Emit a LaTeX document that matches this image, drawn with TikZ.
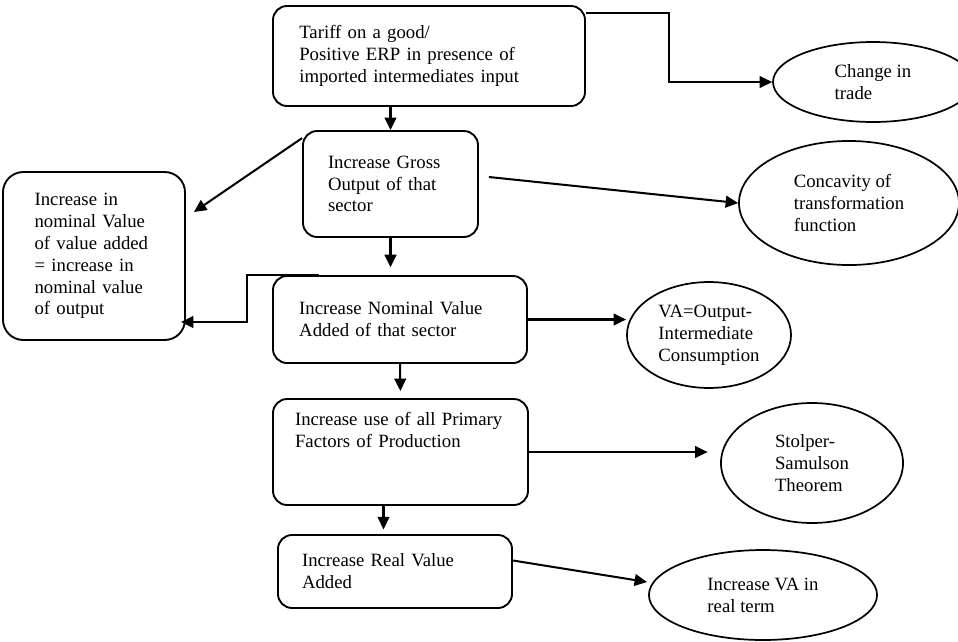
\documentclass[tikz,border=0pt]{standalone}
\usepackage{fontspec}
\setmainfont{Liberation Serif}
\usetikzlibrary{positioning,shapes.geometric,arrows.meta,calc}
\tikzset{
  box/.style={rectangle, rounded corners=9pt, fill=white, draw, line width=1.2pt, align=left, inner xsep=14pt},
  oval/.style={ellipse, fill=white, draw, line width=1.1pt, align=left, inner sep=0pt},
%  tallBox/.style={box, rounded corners=13pt},
  flow/.style={-{Triangle[length=8pt,width=7.5pt]}, line width=1.3pt}
}

\begin{document}
\begin{tikzpicture}[x=0.64pt, y=-0.64pt, font=\fontsize{12pt}{14pt}\selectfont]
  \useasboundingbox (0,0) rectangle (958,641);
  \clip (0,0) rectangle (958,641);
  % boxes
  \node [box, minimum width=199.7pt, minimum height=64pt, text width=166pt] (tariff) at (429,56)
    {Tariff on a good/\\Positive ERP in presence of\\imported intermediates input};
  \node [box, minimum width=112pt, minimum height=67.8pt, text width=80pt] (gross) at (390.5,184)
    {Increase Gross\\Output of that\\sector};
  \node [box, rounded corners=13pt, minimum width=116.5pt, minimum height=107.5pt, text width=76pt] (nomvalue) at (94,256)
    {Increase in\\nominal Value\\of value added\\= increase in\\nominal value\\of output};
  \node [box, minimum width=162.6pt, minimum height=55.7pt, text width=129pt] (nominal) at (400,319.5)
    {Increase Nominal Value\\Added of that sector};
  \node [box, minimum width=163.2pt, minimum height=67.8pt, text width=135pt, text depth=42pt, inner ysep=0pt] (primary) at (400.5,452)
    {Increase~use~of~all~Primary\\Factors of Production};
  \node [box, minimum width=149.8pt, minimum height=46.7pt, text width=119pt] (real) at (395,571.5)
    {Increase Real Value\\Added};
  % ovals
  \node [oval, minimum width=128pt, minimum height=51.2pt] (trade) at (873,82) {Change in\\trade};
  \node [oval, minimum width=140.8pt, minimum height=79.4pt] (concave) at (849,203)
    {Concavity of\\transformation\\function};
  \node [oval, minimum width=105pt, minimum height=67.8pt] (vadef) at (709,335)
    {VA=Output-\\Intermediate\\Consumption};
  \node [oval, minimum width=116.5pt, minimum height=76.8pt] (stolper) at (812,463)
    {Stolper-\\Samulson\\Theorem};
  \node [oval, minimum width=146pt, minimum height=57.6pt] (realva) at (763,595)
    {Increase VA in\\real term};
  % arrows
  \coordinate (down) at ($(primary.south)+(-17,0)$);
  \draw [flow] ($(tariff.north east)+(0,8)$) -- ++(83,0) |- (trade.west);
  \draw [flow] (tariff.south -| gross.north) -- (gross.north);
  \draw [flow] ($(gross.north west)+(0,8)$) -- ($(nomvalue.east)+(8,-44)$);
  \draw [flow] ($(gross.east)+(10,-7)$) -- (concave.west);
  \draw [flow, shorten >=5pt] (gross.south) -- (gross.south |- nominal.north);
  \draw [flow] ($(nominal.north west)+(47,0)$) -- ++(-72,0) |- ($(nomvalue.east)+(-5,66)$);
  \draw [flow] (nominal.east) -- (nominal.east -| vadef.west);
  \draw [flow, shorten >=4.5pt] (nominal.south) -- (primary.north);
  \draw [flow, shorten >=8pt] (primary.east) -- (primary.east -| stolper.west);
  \draw [flow, shorten >=3pt] (down) -- (down |- real.north);
  \draw [flow] ($(real.east)+(0,-11)$) -- ($(realva.west)+(-1,-13)$);
\end{tikzpicture}
\end{document}
